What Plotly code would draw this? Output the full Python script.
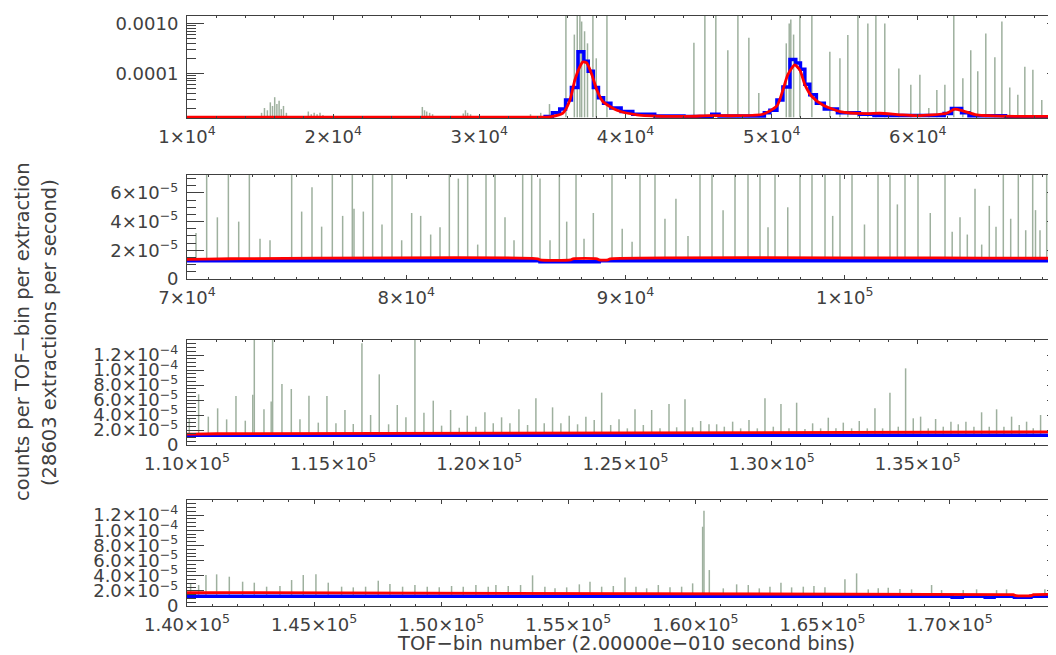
import plotly.graph_objects as go

# ---------------- data ----------------
TOP = 3e-3          # spikes that run off the top of their panel
GRAY_BASE = 1.3e-5  # level of the raw histogram between spikes

# smoothed curve (red)
red_x = [10000, 34000, 34830, 35720, 36200, 36540, 36880, 37090, 37360, 37700,
         38040, 38450, 39410, 40780, 42830, 44400, 45770, 47620, 49400, 50360,
         50770, 51100, 51580, 51930, 52270, 52750, 53500, 54670, 56510, 57400,
         58770, 59930, 61980, 62530, 63080, 64040, 66770, 69440, 72000, 86000,
         86100, 87500, 87600, 88700, 88800, 89200, 89300, 110000, 111000, 172500,
         172600, 173200, 173300, 175000]
red_y = [1.31e-5, 1.31e-5, 1.33e-5, 1.58e-5, 2.9e-5, 7.4e-5, 1.36e-4, 1.7e-4, 1.6e-4, 9.3e-5,
         4.6e-5, 2.7e-5, 1.8e-5, 1.46e-5, 1.36e-5, 1.36e-5, 1.4e-5, 1.4e-5, 1.5e-5, 2.2e-5,
         4.6e-5, 9.3e-5, 1.47e-4, 1.16e-4, 5.9e-5, 3.4e-5, 2.3e-5, 1.7e-5, 1.54e-5, 1.57e-5,
         1.46e-5, 1.4e-5, 1.57e-5, 1.9e-5, 1.75e-5, 1.46e-5, 1.36e-5, 1.36e-5, 1.41e-5, 1.41e-5,
         1.33e-5, 1.33e-5, 1.41e-5, 1.41e-5, 1.33e-5, 1.33e-5, 1.41e-5, 1.45e-5, 1.5e-5, 1.5e-5,
         1.36e-5, 1.36e-5, 1.5e-5, 1.5e-5]

# binned histogram (blue, step)
blue_x = [10000, 34500, 35000, 35500, 35900, 36300, 36750, 37150, 37450, 37800,
          38150, 38500, 39000, 39700, 40500, 42000, 44000, 45900, 46400, 49500,
          49880, 50360, 50770, 51250, 51650, 51970, 52270, 52610, 53060, 53600,
          54500, 56000, 57000, 61800, 62300, 62990, 63500, 66000, 70000, 86100,
          88800, 110000, 170100, 170500, 171400, 171750, 172550, 173200, 175000]
blue_y = [1.28e-5, 1.35e-5, 1.6e-5, 1.9e-5, 2.9e-5, 5.2e-5, 2.7e-4, 1.75e-4, 1.1e-4, 5.2e-5,
          3.2e-5, 2.5e-5, 2.0e-5, 1.7e-5, 1.5e-5, 1.38e-5, 1.35e-5, 1.5e-5, 1.38e-5, 1.6e-5,
          1.8e-5, 2.9e-5, 5.3e-5, 1.9e-4, 1.6e-4, 1.2e-4, 6.0e-5, 3.7e-5, 2.5e-5, 1.9e-5,
          1.6e-5, 1.5e-5, 1.42e-5, 1.55e-5, 1.95e-5, 1.6e-5, 1.4e-5, 1.32e-5, 1.28e-5, 1.2e-5,
          1.28e-5, 1.3e-5, 1.15e-5, 1.3e-5, 1.15e-5, 1.3e-5, 1.15e-5, 1.3e-5, 1.3e-5]

# raw histogram spikes (gray): position, height
gray_x = [
    # panel 1
    15100, 15300, 15500, 15700, 15850, 16000, 16150, 16300, 16450, 16600, 16800,
    18300, 18500, 18700, 18900, 19100, 19300,
    26100, 26250, 26400, 26600, 26800,
    28900, 29050, 29200, 29400,
    33500, 34200, 34800,
    35923, 36500, 36700, 36880, 37000, 37200, 37400, 37770, 38000, 38730,
    44680, 45430, 46180, 47000, 47690, 48440, 49120, 51000, 51200, 51310, 51500,
    51930, 52750, 53980, 54670, 55210, 55900, 56580, 57130, 57740, 58700, 59520,
    60140, 60750, 61300, 61850, 62460, 63080, 63620, 64100, 64650, 65270, 65750,
    66290, 66840, 67320, 67870, 68480, 69030,
    # panel 2
    70410, 70897, 71385, 71887, 72358, 72844, 73330, 73786, 74774, 75230, 75701,
    76141, 76628, 77099, 77540, 77617, 78043, 78469, 78894, 79350, 79791, 80247,
    80658, 81114, 81540, 81965, 82376, 82802, 83258, 83638, 84048, 84504, 84915,
    85311, 85721, 86101, 86557, 86983, 87318, 87743, 88108, 88533,
    89384, 89850, 90300, 90661, 91345, 91800, 92300, 92850, 93398, 93945, 94450,
    94994, 95587, 96135, 96500, 96819, 97400, 97959, 98506, 99099, 99450, 99783,
    100331, 100900, 101517, 102064, 102400, 102748, 103341, 103900, 104573, 104900,
    105257, 105590, 105941, 106246, 106593, 106899, 107232, 107569, 107916, 108253,
    108572, 108700, 108905, 109211, 109544,
    # panel 3
    110079, 110398, 110729, 111048, 111356, 111675, 111994, 112250, 112302, 112633,
    112880, 112929, 113248, 113568, 113864, 114172, 114491, 114787, 115095, 115403,
    115688, 115984, 116281, 116577, 116896, 117193, 117489, 117797, 118105, 118424,
    118709, 119017, 119313, 119587, 119883, 120191, 120476, 120761, 121046, 121354,
    121650, 121935, 122220, 122505, 122790, 123075, 123360, 123645, 123930,
    124185, 124493, 124778, 125063, 125325, 125610, 125895, 126180, 126488, 126750,
    127035, 127297, 127571, 127856, 128118, 128380, 128665, 128939, 129224, 129509,
    129771, 130056, 130318, 130592, 130854, 131139, 131401, 131675, 131937, 132199,
    132450, 132735, 132997, 133271, 133533, 133795, 134046, 134331, 134582, 134844,
    135095, 135357, 135608, 135870, 136132, 136383, 136645, 136919, 137181, 137443,
    137694, 137945, 138207, 138469, 138720, 138948, 139199, 139518,
    # panel 4
    140143, 140458, 140746, 141166, 141664, 142188, 142647, 143132, 143656, 144115,
    144574, 145072, 145557, 146082, 146541, 147026, 147524, 147983, 148481, 148966,
    149451, 149923, 150408, 150867, 151365, 151850, 152152, 152637, 153122, 153594,
    154079, 154477, 154936, 155434, 155853, 156312, 156771, 157230, 157662, 158082,
    158541, 159000, 159458, 159891, 160284, 160337, 160547, 161097, 161622, 162080,
    162513, 162933, 163365, 163785, 164244, 164663, 165096, 165882, 166341, 166800,
    167193, 167586, 168045, 168504, 169291, 169684, 170536, 171061, 171847, 172240,
    173748,
]
gray_h = [
    # panel 1
    1.6e-5, 2.0e-5, 1.8e-5, 2.6e-5, 2.2e-5, 3.3e-5, 2.4e-5, 2.8e-5, 1.9e-5, 2.2e-5, 1.6e-5,
    1.7e-5, 1.5e-5, 1.6e-5, 1.5e-5, 1.6e-5, 1.45e-5,
    2.1e-5, 1.8e-5, 1.7e-5, 1.6e-5, 1.5e-5,
    1.55e-5, 1.8e-5, 1.6e-5, 1.5e-5,
    1.5e-5, 1.6e-5, 2.4e-5,
    TOP, 6e-4, TOP, TOP, 1.1e-3, 7e-4, 4e-4, TOP, 2e-4, TOP,
    4.1e-4, TOP, TOP, 2.9e-4, TOP, 5.2e-4, 4e-5, 4e-4, 1e-3, 1.2e-3, 6e-4,
    TOP, TOP, 2.7e-4, 2e-4, 5.9e-4, TOP, 1e-3, TOP, 1e-3, 1.25e-4, 5.9e-5,
    9.3e-5, 2e-5, 4.6e-5, 5.9e-5, TOP, 7.9e-5, 2.9e-4, 1.1e-4, 6.3e-4, 2.1e-4, 1.1e-3,
    5.2e-5, 3.7e-5, 1.35e-4, 1.17e-4, 2.9e-5, 7.2e-5,
    # panel 2
    3.2e-5, TOP, 4.3e-5, TOP, 4.0e-5, TOP, 2.8e-5, 2.7e-5, TOP, 4.7e-5, 6.4e-5,
    3.65e-5, TOP, 4.4e-5, TOP, 4.9e-5, 4.7e-5, TOP, 3.8e-5, TOP, 2.7e-5, 4.6e-5,
    4.4e-5, 3.1e-5, 3.6e-5, TOP, 7.0e-5, TOP, 2.4e-5, TOP, TOP, 4.3e-5, 2.7e-5,
    TOP, TOP, 7.0e-5, 2.7e-5, TOP, 4.0e-5, TOP, 2.8e-5, 4.6e-5,
    TOP, 3.5e-5, 2.6e-5, TOP, TOP, 4.2e-5, 5.6e-5, 3.0e-5, TOP, TOP, 4.8e-5,
    TOP, TOP, TOP, 3.6e-5, TOP, 5.0e-5, TOP, TOP, TOP, 4.4e-5, TOP,
    TOP, 3.8e-5, TOP, TOP, 5.2e-5, TOP, TOP, 4.6e-5, TOP, 3.3e-5,
    4.3e-5, 3.1e-5, 6.3e-5, 2.4e-5, 5.1e-5, 3.65e-5, TOP, 4.2e-5, TOP, 3.4e-5,
    TOP, 4.8e-5, 3.4e-5, TOP, 3.2e-5,
    # panel 3
    3.56e-5, 6.76e-5, 3.78e-5, 4.89e-5, 3.42e-5, 6.53e-5, 3.24e-5, 6.7e-5, TOP, 4.76e-5,
    5.8e-5, TOP, 8.13e-5, 7.47e-5, 3.42e-5, 6.58e-5, 2.98e-5, 6.53e-5, 2.89e-5, 4.67e-5,
    2.8e-5, 1.356e-4, 4.0e-5, 9.42e-5, 2.76e-5, 5.33e-5, 3.69e-5, TOP, 4.31e-5, 5.91e-5,
    2.58e-5, 4.67e-5, 2.31e-5, 3.91e-5, 2.44e-5, 4.36e-5, 2.89e-5, 3.69e-5, 2.89e-5, 4.76e-5,
    2.67e-5, 6.22e-5, 2.89e-5, 5.02e-5, 2.89e-5, 3.91e-5, 2.76e-5, 3.78e-5, 3.33e-5,
    6.98e-5, 2.67e-5, 3.42e-5, 2.22e-5, 4.76e-5, 2.67e-5, 4.67e-5, 2.22e-5, 5.47e-5, 2.36e-5,
    6.09e-5, 2.36e-5, 3.2e-5, 2.76e-5, 2.76e-5, 2.44e-5, 3.11e-5, 2.22e-5, 3.33e-5, 2.22e-5,
    6.22e-5, 2.44e-5, 5.47e-5, 2.22e-5, 5.64e-5, 2.13e-5, 2.89e-5, 2.22e-5, 3.64e-5, 2.22e-5,
    2.98e-5, 2.22e-5, 3.2e-5, 2.22e-5, 4.89e-5, 2.22e-5, 6.98e-5, 2.44e-5, 1.022e-4, 3.56e-5,
    3.78e-5, 2.22e-5, 3.47e-5, 2.44e-5, 3.11e-5, 2.76e-5, 3.11e-5, 2.44e-5, 4.36e-5, 2.44e-5,
    4.76e-5, 2.44e-5, 3.78e-5, 2.67e-5, 3.11e-5, 2.22e-5, 4.0e-5, 2.67e-5,
    # panel 4
    2.99e-5, 2.77e-5, 4.09e-5, 4.18e-5, 3.87e-5, 3.21e-5, 3.08e-5, 2.55e-5, 2.64e-5, 3.43e-5,
    4.09e-5, 4.18e-5, 3.08e-5, 2.55e-5, 2.46e-5, 2.55e-5, 3.34e-5, 2.9e-5, 2.55e-5, 2.77e-5,
    2.55e-5, 2.46e-5, 2.64e-5, 2.55e-5, 2.77e-5, 2.55e-5, 2.77e-5, 2.64e-5, 2.77e-5, 4.05e-5,
    2.55e-5, 2.33e-5, 2.46e-5, 2.86e-5, 3.21e-5, 2.55e-5, 2.64e-5, 3.78e-5, 2.55e-5, 2.33e-5,
    2.77e-5, 2.46e-5, 2.55e-5, 2.99e-5, 1.047e-4, 1.258e-4, 4.75e-5, 2.33e-5, 2.86e-5, 2.77e-5,
    2.33e-5, 2.55e-5, 3.08e-5, 2.46e-5, 2.55e-5, 2.64e-5, 2.46e-5, 3.52e-5, 4.31e-5, 2.2e-5,
    2.33e-5, 2.42e-5, 2.24e-5, 2.2e-5, 2.77e-5, 2.1e-5, 2.1e-5, 2.2e-5, 2.1e-5, 2.2e-5,
    2.2e-5,
]

# axis setup per panel
x_ranges = [(10000, 70000), (70000, 110000), (110000, 140000), (140000, 174500)]
x_tickvals = [
    [10000, 20000, 30000, 40000, 50000, 60000],
    [70000, 80000, 90000, 100000],
    [110000, 115000, 120000, 125000, 130000, 135000],
    [140000, 145000, 150000, 155000, 160000, 165000, 170000],
]
x_ticktext = [
    ["1×10<sup>4</sup>", "2×10<sup>4</sup>", "3×10<sup>4</sup>", "4×10<sup>4</sup>",
     "5×10<sup>4</sup>", "6×10<sup>4</sup>"],
    ["7×10<sup>4</sup>", "8×10<sup>4</sup>", "9×10<sup>4</sup>", "1×10<sup>5</sup>"],
    ["1.10×10<sup>5</sup>", "1.15×10<sup>5</sup>", "1.20×10<sup>5</sup>",
     "1.25×10<sup>5</sup>", "1.30×10<sup>5</sup>", "1.35×10<sup>5</sup>"],
    ["1.40×10<sup>5</sup>", "1.45×10<sup>5</sup>", "1.50×10<sup>5</sup>",
     "1.55×10<sup>5</sup>", "1.60×10<sup>5</sup>", "1.65×10<sup>5</sup>",
     "1.70×10<sup>5</sup>"],
]
x_minor = [2000, 1000, 1000, 1000]

y_tickvals = [
    [1e-4, 1e-3],
    [0, 2e-5, 4e-5, 6e-5],
    [0, 2e-5, 4e-5, 6e-5, 8e-5, 1e-4, 1.2e-4],
    [0, 2e-5, 4e-5, 6e-5, 8e-5, 1e-4, 1.2e-4],
]
lin_text = ["0", "2.0×10<sup>−5</sup>", "4.0×10<sup>−5</sup>", "6.0×10<sup>−5</sup>",
            "8.0×10<sup>−5</sup>", "1.0×10<sup>−4</sup>", "1.2×10<sup>−4</sup>"]
y_ticktext = [
    ["0.0001", "0.0010"],
    ["0", "2×10<sup>−5</sup>", "4×10<sup>−5</sup>", "6×10<sup>−5</sup>"],
    lin_text,
    lin_text,
]
y_ranges = [(-4.90, -2.848), (0, 7.25e-5), (0, 1.4e-4), (0, 1.4e-4)]
log_minor = [k * 10.0 ** e for e in (-5, -4) for k in range(2, 10)]

# ---------------- geometry ----------------
# The page body adds an 8 px margin; the figure is drawn 8 px in and the
# (hidden) overflow beyond the window is simply cropped, like the reference.
OFF = 8
FW, FH = 1072, 664
boxes = [(16, 118), (175, 279), (340, 445), (500, 606)]   # top/bottom in window px
X0, X1 = 187, 1064                                          # left/right in window px


def fx(px):
    return (px - OFF) / FW


def fy(py):
    return 1 - (py - OFF) / FH


FONT = "DejaVu Sans"
TXT = "#404040"
AX = "#404040"
TICK_SIZE = 18
TITLE_SIZE = 19.5

fig = go.Figure()

spike_x, spike_y = [], []
for v, h in zip(gray_x, gray_h):
    spike_x += [v, v, None]
    spike_y += [GRAY_BASE, h, None]

layout = {}
for i in range(4):
    n = "" if i == 0 else str(i + 1)
    xa, ya = "x" + n, "y" + n
    fig.add_trace(go.Scatter(x=spike_x, y=spike_y, mode="lines", xaxis=xa, yaxis=ya,
                             line=dict(color="rgb(158,176,158)", width=1.5),
                             hoverinfo="skip", showlegend=False))
    fig.add_trace(go.Scatter(x=blue_x, y=blue_y, mode="lines", xaxis=xa, yaxis=ya,
                             line=dict(color="#0000ff", width=3.5, shape="hv"),
                             showlegend=False))
    fig.add_trace(go.Scatter(x=red_x, y=red_y, mode="lines", xaxis=xa, yaxis=ya,
                             line=dict(color="#ff0000", width=2.8, shape="spline", smoothing=0.6),
                             showlegend=False))
    t, b = boxes[i]
    layout["xaxis" + n] = dict(
        domain=[fx(X0), fx(X1)], anchor=ya, range=list(x_ranges[i]), automargin=False,
        tickmode="array", tickvals=x_tickvals[i], ticktext=x_ticktext[i],
        ticks="inside", ticklen=4, tickwidth=1, tickcolor=AX,
        minor=dict(dtick=x_minor[i], tick0=0, ticks="inside", ticklen=2, tickcolor=AX),
        showline=True, linecolor=AX, linewidth=1, mirror="allticks",
        showgrid=False, zeroline=False,
        tickfont=dict(family=FONT, size=TICK_SIZE, color=TXT), ticklabelstandoff=2,
    )
    ydict = dict(
        domain=[fy(b), fy(t)], anchor=xa, range=list(y_ranges[i]), automargin=False,
        tickmode="array", tickvals=y_tickvals[i], ticktext=y_ticktext[i],
        ticks="inside", ticklen=17, tickwidth=1, tickcolor=AX,
        showline=True, linecolor=AX, linewidth=1, mirror="allticks",
        showgrid=False, zeroline=False,
        tickfont=dict(family=FONT, size=TICK_SIZE, color=TXT), ticklabelstandoff=4,
    )
    if i == 0:
        ydict["type"] = "log"
        ydict["minor"] = dict(tickmode="array", tickvals=log_minor, ticks="inside",
                              ticklen=9, tickcolor=AX)
    else:
        ydict["minor"] = dict(dtick=5e-6, tick0=0, ticks="inside", ticklen=9, tickcolor=AX)
    layout["yaxis" + n] = ydict

fig.update_layout(**layout)
fig.update_layout(
    template="none",
    width=FW, height=FH, margin=dict(l=0, r=0, t=0, b=0, autoexpand=False),
    paper_bgcolor="white", plot_bgcolor="white", showlegend=False,
    annotations=[
        dict(text="TOF−bin number (2.00000e−010 second bins)", xref="paper", yref="paper",
             x=fx(625.5), y=fy(643), showarrow=False, xanchor="center", yanchor="middle",
             font=dict(family=FONT, size=TITLE_SIZE, color=TXT)),
        dict(text="counts per TOF−bin per extraction", xref="paper", yref="paper",
             x=fx(22), y=fy(332), showarrow=False, textangle=-90,
             xanchor="center", yanchor="middle",
             font=dict(family=FONT, size=TITLE_SIZE, color=TXT)),
        dict(text="(28603 extractions per second)", xref="paper", yref="paper",
             x=fx(49), y=fy(333), showarrow=False, textangle=-90,
             xanchor="center", yanchor="middle",
             font=dict(family=FONT, size=TITLE_SIZE, color=TXT)),
    ],
)

fig.write_html("out.html")
